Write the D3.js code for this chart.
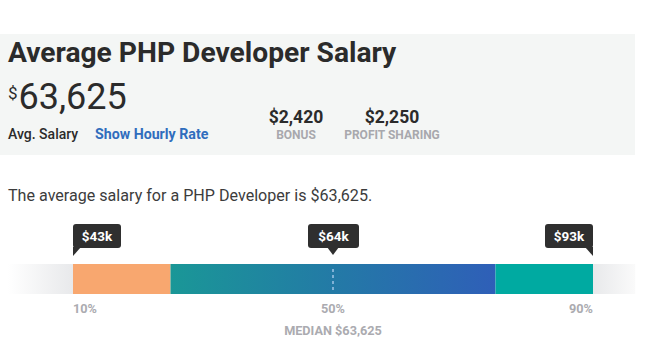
<!DOCTYPE html>
<html><head><meta charset="utf-8">
<script src="https://cdn.jsdelivr.net/npm/d3@7"></script>
<style>
html,body{margin:0;padding:0;background:#fff;}
svg{display:block;font-family:Roboto,"Noto Sans",sans-serif;}
</style></head>
<body><svg id="c" width="665" height="359"></svg>
<script>
const title = "Average PHP Developer Salary";
const avgSalary = 63625;
const extras = [{label:"BONUS", value:2420}, {label:"PROFIT SHARING", value:2250}];
const sentence = "The average salary for a PHP Developer is $63,625.";
// percentile markers
const markerPercentiles = [10, 50, 90];
const markerSalaries = [43000, 63625, 93000];
const markerLabels = ["10%", "50%", "90%"];
// bar segments by percentile
const segStart = [0, 10, 25, 75, 90];
const segEnd   = [10, 25, 75, 90, 96.5];
const segFill  = ["fadeL", "#f8a76f", "blueGrad", "#00aaa1", "fadeR"];

const svg = d3.select("#c");
const defs = svg.append("defs");
function grad(id, stops){
  const g = defs.append("linearGradient").attr("id", id).attr("x1","0%").attr("x2","100%");
  stops.forEach(([o,c])=>g.append("stop").attr("offset",o).attr("stop-color",c));
}
grad("fadeL", [["0%","#ffffff"],["100%","#e8e9eb"]]);
grad("fadeR", [["0%","#e8e9eb"],["100%","#fafafa"]]);
grad("blueGrad", [["0%","#1a9797"],["50%","#237aa6"],["100%","#2f5fb8"]]);

// header box
svg.append("rect").attr("x",0).attr("y",34).attr("width",635).attr("height",121).attr("fill","#f4f6f5");
svg.append("text").attr("x",8).attr("y",62).attr("font-size",28.2).attr("font-weight",700).attr("fill","#2b2b2b").text(title);
const big = svg.append("text").attr("x",8).attr("y",109).attr("fill","#2b2b2b");
big.append("tspan").attr("font-size",17).attr("dy",-10).text("$");
big.append("tspan").attr("font-size",36).attr("dy",10).attr("dx",1).text(d3.format(",")(avgSalary));
svg.append("text").attr("x",8).attr("y",139).attr("font-size",14).attr("font-weight",500).attr("fill","#2b2b2b").text("Avg. Salary");
svg.append("text").attr("x",95).attr("y",139).attr("font-size",14.2).attr("font-weight",700).attr("fill","#2f6dbd").text("Show Hourly Rate");
const exX = [296, 392];
extras.forEach((e,i)=>{
  svg.append("text").attr("x",exX[i]).attr("y",123).attr("text-anchor","middle").attr("font-size",17.5).attr("font-weight",700).attr("fill","#2b2b2b").text("$"+d3.format(",")(e.value));
  svg.append("text").attr("x",exX[i]).attr("y",139).attr("text-anchor","middle").attr("font-size",12).attr("font-weight",700).attr("fill","#a8a8ad").text(e.label);
});
svg.append("text").attr("x",8).attr("y",201).attr("font-size",16.1).attr("fill","#3c3c3c").text(sentence);

// scale by percentile
const x = d3.scaleLinear().domain([10,90]).range([73,593]);
const barY = 264, barH = 30;
svg.selectAll("rect.seg").data(segStart).join("rect").attr("class","seg")
  .attr("x",(d)=>x(d)).attr("y",barY)
  .attr("width",(d,i)=>x(segEnd[i])-x(d)).attr("height",barH)
  .attr("fill",(d,i)=>segFill[i].startsWith("#")?segFill[i]:`url(#${segFill[i]})`);
// median dotted line
svg.append("line").attr("x1",x(50)).attr("x2",x(50)).attr("y1",barY+5).attr("y2",barY+barH-2)
  .attr("stroke","#9fc3e6").attr("stroke-width",1.5).attr("stroke-dasharray","3,3");

// tooltips
const fmtK = v => "$" + Math.round(v/1000) + "k";
markerPercentiles.forEach((p,i)=>{
  const cx = x(p), w = 48, top = 224, h = 24;
  let bx, tri;
  if (i===0){ bx = cx; tri = [[cx,top+h-1],[cx+8,top+h-1],[cx,top+h+8]]; }
  else if (i===markerPercentiles.length-1){ bx = cx-w; tri = [[cx-8,top+h-1],[cx,top+h-1],[cx,top+h+8]]; }
  else { bx = cx-w/2-1; tri = [[cx-6,top+h-1],[cx+6,top+h-1],[cx,top+h+7]]; }
  svg.append("rect").attr("x",bx).attr("y",top).attr("width",w+ (i===1?3:0)).attr("height",h).attr("rx",3).attr("fill","#2f2f2f");
  svg.append("path").attr("d",d3.line()(tri)+"Z").attr("fill","#2f2f2f");
  svg.append("text").attr("x",bx+(w+(i===1?3:0))/2).attr("y",top+16.5).attr("text-anchor","middle")
    .attr("font-size",13.5).attr("font-weight",700).attr("fill","#fff").text(fmtK(markerSalaries[i]));
  const anchor = i===0?"start":(i===markerPercentiles.length-1?"end":"middle");
  svg.append("text").attr("x",cx).attr("y",313).attr("text-anchor",anchor)
    .attr("font-size",12.7).attr("font-weight",700).attr("fill","#ababb0").text(markerLabels[i]);
});
svg.append("text").attr("x",x(50)).attr("y",335).attr("text-anchor","middle")
  .attr("font-size",12.7).attr("font-weight",700).attr("fill","#ababb0").text("MEDIAN $"+d3.format(",")(avgSalary));
</script></body></html>
